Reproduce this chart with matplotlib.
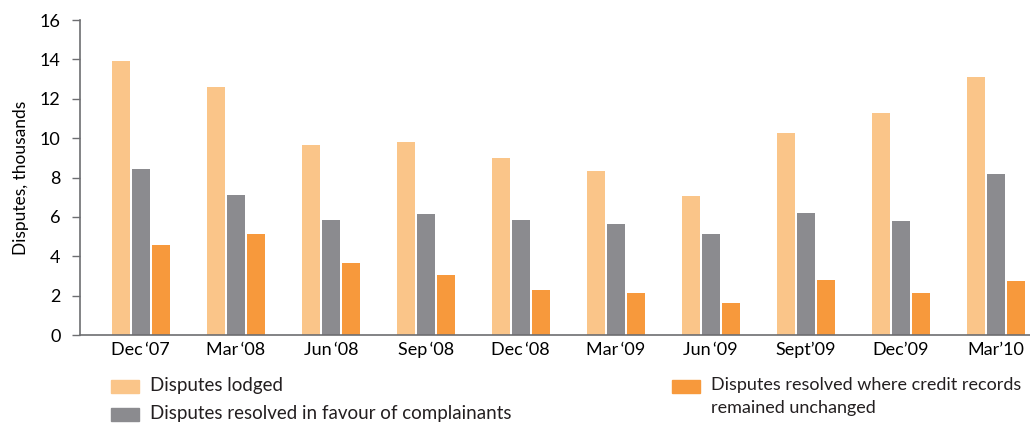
import numpy as np
import matplotlib
matplotlib.use("Agg")
import matplotlib.pyplot as plt
from matplotlib.patches import Rectangle

quarters = ["Dec\u2009\u201807", "Mar\u2009\u201808", "Jun\u2009\u201808", "Sep\u2009\u201808", "Dec\u2009\u201808",
            "Mar\u2009\u201809", "Jun\u2009\u201809", "Sept\u201909", "Dec\u201909", "Mar\u201910"]
lodged = [13.9, 12.6, 9.65, 9.8, 9.0, 8.33, 7.06, 10.26, 11.3, 13.1]
in_favour = [8.43, 7.1, 5.84, 6.15, 5.84, 5.64, 5.13, 6.2, 5.79, 8.18]
unchanged = [4.57, 5.13, 3.66, 3.05, 2.29, 2.13, 1.63, 2.79, 2.13, 2.74]
labels = ["Disputes lodged", "Disputes resolved in favour of complainants",
          "Disputes resolved where credit records\nremained unchanged"]

c_lodged = "#FAC589"
c_favour = "#8B8B8F"
c_unch = "#F7993C"
axis_col = "#6D6E71"

plt.rcParams['font.family'] = ['Lato', 'DejaVu Sans']
plt.rcParams['text.color'] = '#231F20'

W, H = 1030, 423
fig = plt.figure(figsize=(W / 100, H / 100), dpi=100)
ax = fig.add_axes([80 / W, 1 - 335 / H, 950 / W, 315 / H])

x = np.arange(len(quarters))
w = 0.19
off = 0.21
ax.bar(x - off, lodged, w, color=c_lodged)
ax.bar(x, in_favour, w, color=c_favour)
ax.bar(x + off, unchanged, w, color=c_unch)

ax.set_xlim(-0.64, 9.36)
ax.set_ylim(0, 16)
ax.set_yticks(range(0, 17, 2))
ax.set_xticks(x)
ax.set_xticklabels(quarters)
ax.tick_params(axis='x', length=0, pad=5, labelsize=13)
ax.tick_params(axis='y', length=6, width=1, color=axis_col, pad=8, labelsize=13)
for s in ['top', 'right']:
    ax.spines[s].set_visible(False)
for s in ['left', 'bottom']:
    ax.spines[s].set_color(axis_col)
    ax.spines[s].set_linewidth(1.2)
ax.set_ylabel("Disputes, thousands", fontsize=12.5, labelpad=8)

# legend drawn by hand, positions in pixels from top-left
def legend_item(px, py, color, text, size=13.5):
    fig.add_artist(Rectangle((px / W, 1 - (py + 13) / H), 28 / W, 13 / H,
                             color=color, transform=fig.transFigure))
    fig.text((px + 39) / W, 1 - (py - 3) / H, text, fontsize=size, va='top',
             linespacing=1.5, transform=fig.transFigure)

legend_item(111, 380, c_lodged, labels[0])
legend_item(111, 408, c_favour, labels[1])
legend_item(672, 380, c_unch, labels[2], size=13)

fig.savefig("out.png", dpi=100)
